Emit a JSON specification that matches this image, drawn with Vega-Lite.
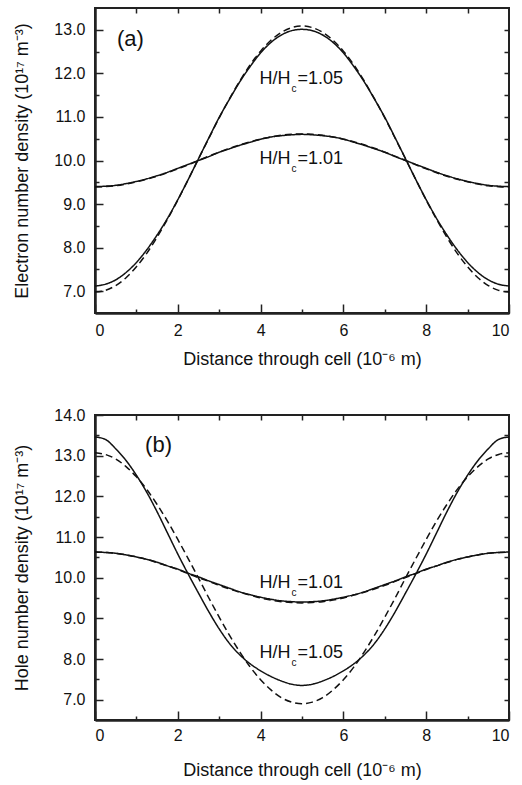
{
  "$schema": "https://vega.github.io/schema/vega-lite/v6.json",
  "padding": {"left": 12, "top": 6, "right": 8, "bottom": 2},
  "background": "white",
  "config": {
    "font": "Liberation Sans",
    "view": {"stroke": "#222", "strokeWidth": 2},
    "axis": {"grid": false, "domain": false, "ticks": true, "tickColor": "#222", "tickWidth": 1.5, "labelFont": "Liberation Sans", "labelFontSize": 16, "labelColor": "#111", "titleFont": "Liberation Sans", "titleFontSize": 18, "titleFontWeight": "normal", "titleColor": "#111"},
    "text": {"font": "Liberation Sans", "color": "#111"}
  },
  "datasets": {
    "electron": [
      {"x":0,"y":7.12,"ratio":"1.05","set":"A"},{"x":0.25,"y":7.16,"ratio":"1.05","set":"A"},{"x":0.5,"y":7.26,"ratio":"1.05","set":"A"},{"x":0.75,"y":7.43,"ratio":"1.05","set":"A"},{"x":1,"y":7.66,"ratio":"1.05","set":"A"},{"x":1.25,"y":7.95,"ratio":"1.05","set":"A"},{"x":1.5,"y":8.29,"ratio":"1.05","set":"A"},{"x":1.75,"y":8.67,"ratio":"1.05","set":"A"},{"x":2,"y":9.1,"ratio":"1.05","set":"A"},{"x":2.25,"y":9.56,"ratio":"1.05","set":"A"},{"x":2.5,"y":10.04,"ratio":"1.05","set":"A"},{"x":2.75,"y":10.52,"ratio":"1.05","set":"A"},{"x":3,"y":10.99,"ratio":"1.05","set":"A"},{"x":3.25,"y":11.41,"ratio":"1.05","set":"A"},{"x":3.5,"y":11.81,"ratio":"1.05","set":"A"},{"x":3.75,"y":12.16,"ratio":"1.05","set":"A"},{"x":4,"y":12.47,"ratio":"1.05","set":"A"},{"x":4.25,"y":12.71,"ratio":"1.05","set":"A"},{"x":4.5,"y":12.88,"ratio":"1.05","set":"A"},{"x":4.75,"y":12.98,"ratio":"1.05","set":"A"},{"x":5,"y":13.01,"ratio":"1.05","set":"A"},{"x":5.25,"y":12.98,"ratio":"1.05","set":"A"},{"x":5.5,"y":12.88,"ratio":"1.05","set":"A"},{"x":5.75,"y":12.71,"ratio":"1.05","set":"A"},{"x":6,"y":12.47,"ratio":"1.05","set":"A"},{"x":6.25,"y":12.16,"ratio":"1.05","set":"A"},{"x":6.5,"y":11.81,"ratio":"1.05","set":"A"},{"x":6.75,"y":11.41,"ratio":"1.05","set":"A"},{"x":7,"y":10.99,"ratio":"1.05","set":"A"},{"x":7.25,"y":10.52,"ratio":"1.05","set":"A"},{"x":7.5,"y":10.04,"ratio":"1.05","set":"A"},{"x":7.75,"y":9.56,"ratio":"1.05","set":"A"},{"x":8,"y":9.1,"ratio":"1.05","set":"A"},{"x":8.25,"y":8.67,"ratio":"1.05","set":"A"},{"x":8.5,"y":8.29,"ratio":"1.05","set":"A"},{"x":8.75,"y":7.95,"ratio":"1.05","set":"A"},{"x":9,"y":7.66,"ratio":"1.05","set":"A"},{"x":9.25,"y":7.43,"ratio":"1.05","set":"A"},{"x":9.5,"y":7.26,"ratio":"1.05","set":"A"},{"x":9.75,"y":7.16,"ratio":"1.05","set":"A"},{"x":10,"y":7.12,"ratio":"1.05","set":"A"},
      {"x":0,"y":6.98,"ratio":"1.05","set":"B"},{"x":0.25,"y":7.02,"ratio":"1.05","set":"B"},{"x":0.5,"y":7.13,"ratio":"1.05","set":"B"},{"x":0.75,"y":7.31,"ratio":"1.05","set":"B"},{"x":1,"y":7.56,"ratio":"1.05","set":"B"},{"x":1.25,"y":7.87,"ratio":"1.05","set":"B"},{"x":1.5,"y":8.24,"ratio":"1.05","set":"B"},{"x":1.75,"y":8.65,"ratio":"1.05","set":"B"},{"x":2,"y":9.09,"ratio":"1.05","set":"B"},{"x":2.25,"y":9.56,"ratio":"1.05","set":"B"},{"x":2.5,"y":10.04,"ratio":"1.05","set":"B"},{"x":2.75,"y":10.51,"ratio":"1.05","set":"B"},{"x":3,"y":10.98,"ratio":"1.05","set":"B"},{"x":3.25,"y":11.42,"ratio":"1.05","set":"B"},{"x":3.5,"y":11.83,"ratio":"1.05","set":"B"},{"x":3.75,"y":12.2,"ratio":"1.05","set":"B"},{"x":4,"y":12.51,"ratio":"1.05","set":"B"},{"x":4.25,"y":12.76,"ratio":"1.05","set":"B"},{"x":4.5,"y":12.94,"ratio":"1.05","set":"B"},{"x":4.75,"y":13.05,"ratio":"1.05","set":"B"},{"x":5,"y":13.09,"ratio":"1.05","set":"B"},{"x":5.25,"y":13.05,"ratio":"1.05","set":"B"},{"x":5.5,"y":12.94,"ratio":"1.05","set":"B"},{"x":5.75,"y":12.76,"ratio":"1.05","set":"B"},{"x":6,"y":12.51,"ratio":"1.05","set":"B"},{"x":6.25,"y":12.2,"ratio":"1.05","set":"B"},{"x":6.5,"y":11.83,"ratio":"1.05","set":"B"},{"x":6.75,"y":11.42,"ratio":"1.05","set":"B"},{"x":7,"y":10.98,"ratio":"1.05","set":"B"},{"x":7.25,"y":10.51,"ratio":"1.05","set":"B"},{"x":7.5,"y":10.04,"ratio":"1.05","set":"B"},{"x":7.75,"y":9.56,"ratio":"1.05","set":"B"},{"x":8,"y":9.09,"ratio":"1.05","set":"B"},{"x":8.25,"y":8.65,"ratio":"1.05","set":"B"},{"x":8.5,"y":8.24,"ratio":"1.05","set":"B"},{"x":8.75,"y":7.87,"ratio":"1.05","set":"B"},{"x":9,"y":7.56,"ratio":"1.05","set":"B"},{"x":9.25,"y":7.31,"ratio":"1.05","set":"B"},{"x":9.5,"y":7.13,"ratio":"1.05","set":"B"},{"x":9.75,"y":7.02,"ratio":"1.05","set":"B"},{"x":10,"y":6.98,"ratio":"1.05","set":"B"},
      {"x":0,"y":9.4,"ratio":"1.01","set":"A"},{"x":0.25,"y":9.41,"ratio":"1.01","set":"A"},{"x":0.5,"y":9.43,"ratio":"1.01","set":"A"},{"x":0.75,"y":9.47,"ratio":"1.01","set":"A"},{"x":1,"y":9.52,"ratio":"1.01","set":"A"},{"x":1.25,"y":9.58,"ratio":"1.01","set":"A"},{"x":1.5,"y":9.65,"ratio":"1.01","set":"A"},{"x":1.75,"y":9.73,"ratio":"1.01","set":"A"},{"x":2,"y":9.82,"ratio":"1.01","set":"A"},{"x":2.25,"y":9.91,"ratio":"1.01","set":"A"},{"x":2.5,"y":10.0,"ratio":"1.01","set":"A"},{"x":2.75,"y":10.09,"ratio":"1.01","set":"A"},{"x":3,"y":10.19,"ratio":"1.01","set":"A"},{"x":3.25,"y":10.27,"ratio":"1.01","set":"A"},{"x":3.5,"y":10.35,"ratio":"1.01","set":"A"},{"x":3.75,"y":10.42,"ratio":"1.01","set":"A"},{"x":4,"y":10.49,"ratio":"1.01","set":"A"},{"x":4.25,"y":10.54,"ratio":"1.01","set":"A"},{"x":4.5,"y":10.57,"ratio":"1.01","set":"A"},{"x":4.75,"y":10.59,"ratio":"1.01","set":"A"},{"x":5,"y":10.6,"ratio":"1.01","set":"A"},{"x":5.25,"y":10.59,"ratio":"1.01","set":"A"},{"x":5.5,"y":10.57,"ratio":"1.01","set":"A"},{"x":5.75,"y":10.54,"ratio":"1.01","set":"A"},{"x":6,"y":10.49,"ratio":"1.01","set":"A"},{"x":6.25,"y":10.42,"ratio":"1.01","set":"A"},{"x":6.5,"y":10.35,"ratio":"1.01","set":"A"},{"x":6.75,"y":10.27,"ratio":"1.01","set":"A"},{"x":7,"y":10.19,"ratio":"1.01","set":"A"},{"x":7.25,"y":10.09,"ratio":"1.01","set":"A"},{"x":7.5,"y":10.0,"ratio":"1.01","set":"A"},{"x":7.75,"y":9.91,"ratio":"1.01","set":"A"},{"x":8,"y":9.82,"ratio":"1.01","set":"A"},{"x":8.25,"y":9.73,"ratio":"1.01","set":"A"},{"x":8.5,"y":9.65,"ratio":"1.01","set":"A"},{"x":8.75,"y":9.58,"ratio":"1.01","set":"A"},{"x":9,"y":9.52,"ratio":"1.01","set":"A"},{"x":9.25,"y":9.47,"ratio":"1.01","set":"A"},{"x":9.5,"y":9.43,"ratio":"1.01","set":"A"},{"x":9.75,"y":9.41,"ratio":"1.01","set":"A"},{"x":10,"y":9.4,"ratio":"1.01","set":"A"},
      {"x":0,"y":9.39,"ratio":"1.01","set":"B"},{"x":0.25,"y":9.4,"ratio":"1.01","set":"B"},{"x":0.5,"y":9.42,"ratio":"1.01","set":"B"},{"x":0.75,"y":9.46,"ratio":"1.01","set":"B"},{"x":1,"y":9.51,"ratio":"1.01","set":"B"},{"x":1.25,"y":9.57,"ratio":"1.01","set":"B"},{"x":1.5,"y":9.64,"ratio":"1.01","set":"B"},{"x":1.75,"y":9.72,"ratio":"1.01","set":"B"},{"x":2,"y":9.81,"ratio":"1.01","set":"B"},{"x":2.25,"y":9.9,"ratio":"1.01","set":"B"},{"x":2.5,"y":10.0,"ratio":"1.01","set":"B"},{"x":2.75,"y":10.1,"ratio":"1.01","set":"B"},{"x":3,"y":10.19,"ratio":"1.01","set":"B"},{"x":3.25,"y":10.28,"ratio":"1.01","set":"B"},{"x":3.5,"y":10.36,"ratio":"1.01","set":"B"},{"x":3.75,"y":10.43,"ratio":"1.01","set":"B"},{"x":4,"y":10.49,"ratio":"1.01","set":"B"},{"x":4.25,"y":10.54,"ratio":"1.01","set":"B"},{"x":4.5,"y":10.58,"ratio":"1.01","set":"B"},{"x":4.75,"y":10.6,"ratio":"1.01","set":"B"},{"x":5,"y":10.61,"ratio":"1.01","set":"B"},{"x":5.25,"y":10.6,"ratio":"1.01","set":"B"},{"x":5.5,"y":10.58,"ratio":"1.01","set":"B"},{"x":5.75,"y":10.54,"ratio":"1.01","set":"B"},{"x":6,"y":10.49,"ratio":"1.01","set":"B"},{"x":6.25,"y":10.43,"ratio":"1.01","set":"B"},{"x":6.5,"y":10.36,"ratio":"1.01","set":"B"},{"x":6.75,"y":10.28,"ratio":"1.01","set":"B"},{"x":7,"y":10.19,"ratio":"1.01","set":"B"},{"x":7.25,"y":10.1,"ratio":"1.01","set":"B"},{"x":7.5,"y":10.0,"ratio":"1.01","set":"B"},{"x":7.75,"y":9.9,"ratio":"1.01","set":"B"},{"x":8,"y":9.81,"ratio":"1.01","set":"B"},{"x":8.25,"y":9.72,"ratio":"1.01","set":"B"},{"x":8.5,"y":9.64,"ratio":"1.01","set":"B"},{"x":8.75,"y":9.57,"ratio":"1.01","set":"B"},{"x":9,"y":9.51,"ratio":"1.01","set":"B"},{"x":9.25,"y":9.46,"ratio":"1.01","set":"B"},{"x":9.5,"y":9.42,"ratio":"1.01","set":"B"},{"x":9.75,"y":9.4,"ratio":"1.01","set":"B"},{"x":10,"y":9.39,"ratio":"1.01","set":"B"}
    ],
    "hole": [
      {"x":0,"y":13.46,"ratio":"1.05","set":"A"},{"x":0.25,"y":13.4,"ratio":"1.05","set":"A"},{"x":0.5,"y":13.17,"ratio":"1.05","set":"A"},{"x":0.75,"y":12.88,"ratio":"1.05","set":"A"},{"x":1,"y":12.52,"ratio":"1.05","set":"A"},{"x":1.25,"y":12.1,"ratio":"1.05","set":"A"},{"x":1.5,"y":11.62,"ratio":"1.05","set":"A"},{"x":1.75,"y":11.1,"ratio":"1.05","set":"A"},{"x":2,"y":10.58,"ratio":"1.05","set":"A"},{"x":2.25,"y":10.09,"ratio":"1.05","set":"A"},{"x":2.5,"y":9.62,"ratio":"1.05","set":"A"},{"x":2.75,"y":9.16,"ratio":"1.05","set":"A"},{"x":3,"y":8.74,"ratio":"1.05","set":"A"},{"x":3.25,"y":8.38,"ratio":"1.05","set":"A"},{"x":3.5,"y":8.1,"ratio":"1.05","set":"A"},{"x":3.75,"y":7.88,"ratio":"1.05","set":"A"},{"x":4,"y":7.71,"ratio":"1.05","set":"A"},{"x":4.25,"y":7.57,"ratio":"1.05","set":"A"},{"x":4.5,"y":7.46,"ratio":"1.05","set":"A"},{"x":4.75,"y":7.38,"ratio":"1.05","set":"A"},{"x":5,"y":7.35,"ratio":"1.05","set":"A"},{"x":5.25,"y":7.38,"ratio":"1.05","set":"A"},{"x":5.5,"y":7.46,"ratio":"1.05","set":"A"},{"x":5.75,"y":7.57,"ratio":"1.05","set":"A"},{"x":6,"y":7.71,"ratio":"1.05","set":"A"},{"x":6.25,"y":7.88,"ratio":"1.05","set":"A"},{"x":6.5,"y":8.1,"ratio":"1.05","set":"A"},{"x":6.75,"y":8.38,"ratio":"1.05","set":"A"},{"x":7,"y":8.74,"ratio":"1.05","set":"A"},{"x":7.25,"y":9.16,"ratio":"1.05","set":"A"},{"x":7.5,"y":9.62,"ratio":"1.05","set":"A"},{"x":7.75,"y":10.09,"ratio":"1.05","set":"A"},{"x":8,"y":10.58,"ratio":"1.05","set":"A"},{"x":8.25,"y":11.1,"ratio":"1.05","set":"A"},{"x":8.5,"y":11.62,"ratio":"1.05","set":"A"},{"x":8.75,"y":12.1,"ratio":"1.05","set":"A"},{"x":9,"y":12.52,"ratio":"1.05","set":"A"},{"x":9.25,"y":12.88,"ratio":"1.05","set":"A"},{"x":9.5,"y":13.17,"ratio":"1.05","set":"A"},{"x":9.75,"y":13.4,"ratio":"1.05","set":"A"},{"x":10,"y":13.46,"ratio":"1.05","set":"A"},
      {"x":0,"y":13.07,"ratio":"1.05","set":"B"},{"x":0.25,"y":13.03,"ratio":"1.05","set":"B"},{"x":0.5,"y":12.92,"ratio":"1.05","set":"B"},{"x":0.75,"y":12.73,"ratio":"1.05","set":"B"},{"x":1,"y":12.48,"ratio":"1.05","set":"B"},{"x":1.25,"y":12.17,"ratio":"1.05","set":"B"},{"x":1.5,"y":11.8,"ratio":"1.05","set":"B"},{"x":1.75,"y":11.39,"ratio":"1.05","set":"B"},{"x":2,"y":10.94,"ratio":"1.05","set":"B"},{"x":2.25,"y":10.47,"ratio":"1.05","set":"B"},{"x":2.5,"y":9.99,"ratio":"1.05","set":"B"},{"x":2.75,"y":9.5,"ratio":"1.05","set":"B"},{"x":3,"y":9.03,"ratio":"1.05","set":"B"},{"x":3.25,"y":8.58,"ratio":"1.05","set":"B"},{"x":3.5,"y":8.17,"ratio":"1.05","set":"B"},{"x":3.75,"y":7.8,"ratio":"1.05","set":"B"},{"x":4,"y":7.49,"ratio":"1.05","set":"B"},{"x":4.25,"y":7.24,"ratio":"1.05","set":"B"},{"x":4.5,"y":7.05,"ratio":"1.05","set":"B"},{"x":4.75,"y":6.94,"ratio":"1.05","set":"B"},{"x":5,"y":6.9,"ratio":"1.05","set":"B"},{"x":5.25,"y":6.94,"ratio":"1.05","set":"B"},{"x":5.5,"y":7.05,"ratio":"1.05","set":"B"},{"x":5.75,"y":7.24,"ratio":"1.05","set":"B"},{"x":6,"y":7.49,"ratio":"1.05","set":"B"},{"x":6.25,"y":7.8,"ratio":"1.05","set":"B"},{"x":6.5,"y":8.17,"ratio":"1.05","set":"B"},{"x":6.75,"y":8.58,"ratio":"1.05","set":"B"},{"x":7,"y":9.03,"ratio":"1.05","set":"B"},{"x":7.25,"y":9.5,"ratio":"1.05","set":"B"},{"x":7.5,"y":9.99,"ratio":"1.05","set":"B"},{"x":7.75,"y":10.47,"ratio":"1.05","set":"B"},{"x":8,"y":10.94,"ratio":"1.05","set":"B"},{"x":8.25,"y":11.39,"ratio":"1.05","set":"B"},{"x":8.5,"y":11.8,"ratio":"1.05","set":"B"},{"x":8.75,"y":12.17,"ratio":"1.05","set":"B"},{"x":9,"y":12.48,"ratio":"1.05","set":"B"},{"x":9.25,"y":12.73,"ratio":"1.05","set":"B"},{"x":9.5,"y":12.92,"ratio":"1.05","set":"B"},{"x":9.75,"y":13.03,"ratio":"1.05","set":"B"},{"x":10,"y":13.07,"ratio":"1.05","set":"B"},
      {"x":0,"y":10.63,"ratio":"1.01","set":"A"},{"x":0.25,"y":10.62,"ratio":"1.01","set":"A"},{"x":0.5,"y":10.6,"ratio":"1.01","set":"A"},{"x":0.75,"y":10.56,"ratio":"1.01","set":"A"},{"x":1,"y":10.51,"ratio":"1.01","set":"A"},{"x":1.25,"y":10.45,"ratio":"1.01","set":"A"},{"x":1.5,"y":10.38,"ratio":"1.01","set":"A"},{"x":1.75,"y":10.29,"ratio":"1.01","set":"A"},{"x":2,"y":10.21,"ratio":"1.01","set":"A"},{"x":2.25,"y":10.11,"ratio":"1.01","set":"A"},{"x":2.5,"y":10.02,"ratio":"1.01","set":"A"},{"x":2.75,"y":9.92,"ratio":"1.01","set":"A"},{"x":3,"y":9.83,"ratio":"1.01","set":"A"},{"x":3.25,"y":9.74,"ratio":"1.01","set":"A"},{"x":3.5,"y":9.65,"ratio":"1.01","set":"A"},{"x":3.75,"y":9.58,"ratio":"1.01","set":"A"},{"x":4,"y":9.52,"ratio":"1.01","set":"A"},{"x":4.25,"y":9.47,"ratio":"1.01","set":"A"},{"x":4.5,"y":9.43,"ratio":"1.01","set":"A"},{"x":4.75,"y":9.41,"ratio":"1.01","set":"A"},{"x":5,"y":9.4,"ratio":"1.01","set":"A"},{"x":5.25,"y":9.41,"ratio":"1.01","set":"A"},{"x":5.5,"y":9.43,"ratio":"1.01","set":"A"},{"x":5.75,"y":9.47,"ratio":"1.01","set":"A"},{"x":6,"y":9.52,"ratio":"1.01","set":"A"},{"x":6.25,"y":9.58,"ratio":"1.01","set":"A"},{"x":6.5,"y":9.65,"ratio":"1.01","set":"A"},{"x":6.75,"y":9.74,"ratio":"1.01","set":"A"},{"x":7,"y":9.83,"ratio":"1.01","set":"A"},{"x":7.25,"y":9.92,"ratio":"1.01","set":"A"},{"x":7.5,"y":10.02,"ratio":"1.01","set":"A"},{"x":7.75,"y":10.11,"ratio":"1.01","set":"A"},{"x":8,"y":10.21,"ratio":"1.01","set":"A"},{"x":8.25,"y":10.29,"ratio":"1.01","set":"A"},{"x":8.5,"y":10.38,"ratio":"1.01","set":"A"},{"x":8.75,"y":10.45,"ratio":"1.01","set":"A"},{"x":9,"y":10.51,"ratio":"1.01","set":"A"},{"x":9.25,"y":10.56,"ratio":"1.01","set":"A"},{"x":9.5,"y":10.6,"ratio":"1.01","set":"A"},{"x":9.75,"y":10.62,"ratio":"1.01","set":"A"},{"x":10,"y":10.63,"ratio":"1.01","set":"A"},
      {"x":0,"y":10.63,"ratio":"1.01","set":"B"},{"x":0.25,"y":10.62,"ratio":"1.01","set":"B"},{"x":0.5,"y":10.6,"ratio":"1.01","set":"B"},{"x":0.75,"y":10.56,"ratio":"1.01","set":"B"},{"x":1,"y":10.51,"ratio":"1.01","set":"B"},{"x":1.25,"y":10.45,"ratio":"1.01","set":"B"},{"x":1.5,"y":10.37,"ratio":"1.01","set":"B"},{"x":1.75,"y":10.29,"ratio":"1.01","set":"B"},{"x":2,"y":10.2,"ratio":"1.01","set":"B"},{"x":2.25,"y":10.1,"ratio":"1.01","set":"B"},{"x":2.5,"y":10.0,"ratio":"1.01","set":"B"},{"x":2.75,"y":9.91,"ratio":"1.01","set":"B"},{"x":3,"y":9.81,"ratio":"1.01","set":"B"},{"x":3.25,"y":9.72,"ratio":"1.01","set":"B"},{"x":3.5,"y":9.64,"ratio":"1.01","set":"B"},{"x":3.75,"y":9.57,"ratio":"1.01","set":"B"},{"x":4,"y":9.5,"ratio":"1.01","set":"B"},{"x":4.25,"y":9.45,"ratio":"1.01","set":"B"},{"x":4.5,"y":9.41,"ratio":"1.01","set":"B"},{"x":4.75,"y":9.39,"ratio":"1.01","set":"B"},{"x":5,"y":9.38,"ratio":"1.01","set":"B"},{"x":5.25,"y":9.39,"ratio":"1.01","set":"B"},{"x":5.5,"y":9.41,"ratio":"1.01","set":"B"},{"x":5.75,"y":9.45,"ratio":"1.01","set":"B"},{"x":6,"y":9.5,"ratio":"1.01","set":"B"},{"x":6.25,"y":9.57,"ratio":"1.01","set":"B"},{"x":6.5,"y":9.64,"ratio":"1.01","set":"B"},{"x":6.75,"y":9.72,"ratio":"1.01","set":"B"},{"x":7,"y":9.81,"ratio":"1.01","set":"B"},{"x":7.25,"y":9.91,"ratio":"1.01","set":"B"},{"x":7.5,"y":10.0,"ratio":"1.01","set":"B"},{"x":7.75,"y":10.1,"ratio":"1.01","set":"B"},{"x":8,"y":10.2,"ratio":"1.01","set":"B"},{"x":8.25,"y":10.29,"ratio":"1.01","set":"B"},{"x":8.5,"y":10.37,"ratio":"1.01","set":"B"},{"x":8.75,"y":10.45,"ratio":"1.01","set":"B"},{"x":9,"y":10.51,"ratio":"1.01","set":"B"},{"x":9.25,"y":10.56,"ratio":"1.01","set":"B"},{"x":9.5,"y":10.6,"ratio":"1.01","set":"B"},{"x":9.75,"y":10.62,"ratio":"1.01","set":"B"},{"x":10,"y":10.63,"ratio":"1.01","set":"B"}
    ],
    "labelsA": [
      {"x":4.72,"y":11.76,"label":"=1.05"},
      {"x":4.72,"y":9.92,"label":"=1.01"}
    ],
    "labelsB": [
      {"x":4.72,"y":9.75,"label":"=1.01"},
      {"x":4.72,"y":8.02,"label":"=1.05"}
    ]
  },
  "bounds": "flush",
  "spacing": 102,
  "vconcat": [
    {
      "width": 414,
      "height": 305,
      "resolve": {"axis": {"x": "independent", "y": "independent"}},
      "layer": [
        {
          "data": {"name": "electron"},
          "mark": {"type": "line", "interpolate": "monotone", "strokeWidth": 1.5, "color": "#111"},
          "encoding": {
            "x": {"field": "x", "type": "quantitative", "scale": {"domain": [0, 10], "nice": false}, "axis": {"orient": "bottom", "values": [0, 2, 4, 6, 8, 10], "tickSize": -9, "labelPadding": 18, "title": "Distance through cell (10⁻⁶ m)", "titlePadding": 12, "domain": true, "domainWidth": 2.5, "domainColor": "#222"}},
            "y": {"field": "y", "type": "quantitative", "scale": {"domain": [6.5, 13.5], "nice": false, "zero": false}, "axis": {"orient": "left", "values": [7, 8, 9, 10, 11, 12, 13], "format": ".1f", "tickSize": -8, "labelPadding": 18, "title": "Electron number density (10¹⁷ m⁻³)", "titlePadding": 22, "domain": true, "domainWidth": 2.5, "domainColor": "#222"}},
            "strokeDash": {"field": "set", "type": "nominal", "scale": {"domain": ["A", "B"], "range": [[1, 0], [7, 4]]}, "legend": null},
            "detail": {"field": "ratio"}
          }
        },
        {
          "data": {"values": [{"panel": "(a)", "x": 0.53, "y": 12.62}]},
          "mark": {"type": "text", "align": "left", "baseline": "alphabetic", "fontSize": 22},
          "encoding": {
            "x": {"field": "x", "type": "quantitative", "scale": {"domain": [0, 10], "nice": false}, "axis": {"orient": "bottom", "values": [1, 3, 5, 7, 9], "tickSize": -4, "labels": false, "title": null}},
            "y": {"field": "y", "type": "quantitative", "scale": {"domain": [6.5, 13.5], "nice": false, "zero": false}, "axis": {"orient": "left", "values": [7.5, 8.5, 9.5, 10.5, 11.5, 12.5], "tickSize": -4, "labels": false, "title": null}},
            "text": {"field": "panel"}
          }
        },
        {
          "data": {"name": "labelsA"},
          "mark": {"type": "text", "align": "right", "baseline": "alphabetic", "fontSize": 18, "text": "H/H"},
          "encoding": {
            "x": {"field": "x", "type": "quantitative", "scale": {"domain": [0, 10], "nice": false}, "axis": {"orient": "top", "values": [1, 2, 3, 4, 5, 6, 7, 8, 9], "tickSize": -5, "labels": false, "title": null}},
            "y": {"field": "y", "type": "quantitative", "scale": {"domain": [6.5, 13.5], "nice": false, "zero": false}, "axis": {"orient": "right", "values": [7, 7.5, 8, 8.5, 9, 9.5, 10, 10.5, 11, 11.5, 12, 12.5, 13], "tickSize": -5, "labels": false, "title": null}}
          }
        },
        {
          "data": {"name": "labelsA"},
          "mark": {"type": "text", "align": "left", "baseline": "alphabetic", "fontSize": 10, "dx": 1, "dy": 8, "text": "c"},
          "encoding": {
            "x": {"field": "x", "type": "quantitative", "scale": {"domain": [0, 10], "nice": false}, "axis": null},
            "y": {"field": "y", "type": "quantitative", "scale": {"domain": [6.5, 13.5], "nice": false, "zero": false}, "axis": null}
          }
        },
        {
          "data": {"name": "labelsA"},
          "mark": {"type": "text", "align": "left", "baseline": "alphabetic", "fontSize": 18, "dx": 7},
          "encoding": {
            "x": {"field": "x", "type": "quantitative", "scale": {"domain": [0, 10], "nice": false}, "axis": null},
            "y": {"field": "y", "type": "quantitative", "scale": {"domain": [6.5, 13.5], "nice": false, "zero": false}, "axis": null},
            "text": {"field": "label"}
          }
        }
      ]
    },
    {
      "width": 414,
      "height": 305,
      "resolve": {"axis": {"x": "independent", "y": "independent"}},
      "layer": [
        {
          "data": {"name": "hole"},
          "mark": {"type": "line", "interpolate": "monotone", "strokeWidth": 1.5, "color": "#111"},
          "encoding": {
            "x": {"field": "x", "type": "quantitative", "scale": {"domain": [0, 10], "nice": false}, "axis": {"orient": "bottom", "values": [0, 2, 4, 6, 8, 10], "tickSize": -9, "labelPadding": 16, "title": "Distance through cell (10⁻⁶ m)", "titlePadding": 18, "domain": true, "domainWidth": 2.5, "domainColor": "#222"}},
            "y": {"field": "y", "type": "quantitative", "scale": {"domain": [6.5, 14], "nice": false, "zero": false}, "axis": {"orient": "left", "values": [7, 8, 9, 10, 11, 12, 13, 14], "format": ".1f", "tickSize": -8, "labelPadding": 18, "title": "Hole number density (10¹⁷ m⁻³)", "titlePadding": 22, "domain": true, "domainWidth": 2.5, "domainColor": "#222"}},
            "strokeDash": {"field": "set", "type": "nominal", "scale": {"domain": ["A", "B"], "range": [[1, 0], [7, 4]]}, "legend": null},
            "detail": {"field": "ratio"}
          }
        },
        {
          "data": {"values": [{"panel": "(b)", "x": 1.21, "y": 13.1}]},
          "mark": {"type": "text", "align": "left", "baseline": "alphabetic", "fontSize": 22},
          "encoding": {
            "x": {"field": "x", "type": "quantitative", "scale": {"domain": [0, 10], "nice": false}, "axis": {"orient": "bottom", "values": [1, 3, 5, 7, 9], "tickSize": -4, "labels": false, "title": null}},
            "y": {"field": "y", "type": "quantitative", "scale": {"domain": [6.5, 14], "nice": false, "zero": false}, "axis": {"orient": "left", "values": [7.5, 8.5, 9.5, 10.5, 11.5, 12.5, 13.5], "tickSize": -4, "labels": false, "title": null}},
            "text": {"field": "panel"}
          }
        },
        {
          "data": {"name": "labelsB"},
          "mark": {"type": "text", "align": "right", "baseline": "alphabetic", "fontSize": 18, "text": "H/H"},
          "encoding": {
            "x": {"field": "x", "type": "quantitative", "scale": {"domain": [0, 10], "nice": false}, "axis": {"orient": "top", "values": [1, 2, 3, 4, 5, 6, 7, 8, 9], "tickSize": -5, "labels": false, "title": null}},
            "y": {"field": "y", "type": "quantitative", "scale": {"domain": [6.5, 14], "nice": false, "zero": false}, "axis": {"orient": "right", "values": [7, 7.5, 8, 8.5, 9, 9.5, 10, 10.5, 11, 11.5, 12, 12.5, 13, 13.5], "tickSize": -5, "labels": false, "title": null}}
          }
        },
        {
          "data": {"name": "labelsB"},
          "mark": {"type": "text", "align": "left", "baseline": "alphabetic", "fontSize": 10, "dx": 1, "dy": 8, "text": "c"},
          "encoding": {
            "x": {"field": "x", "type": "quantitative", "scale": {"domain": [0, 10], "nice": false}, "axis": null},
            "y": {"field": "y", "type": "quantitative", "scale": {"domain": [6.5, 14], "nice": false, "zero": false}, "axis": null}
          }
        },
        {
          "data": {"name": "labelsB"},
          "mark": {"type": "text", "align": "left", "baseline": "alphabetic", "fontSize": 18, "dx": 7},
          "encoding": {
            "x": {"field": "x", "type": "quantitative", "scale": {"domain": [0, 10], "nice": false}, "axis": null},
            "y": {"field": "y", "type": "quantitative", "scale": {"domain": [6.5, 14], "nice": false, "zero": false}, "axis": null},
            "text": {"field": "label"}
          }
        }
      ]
    }
  ]
}
